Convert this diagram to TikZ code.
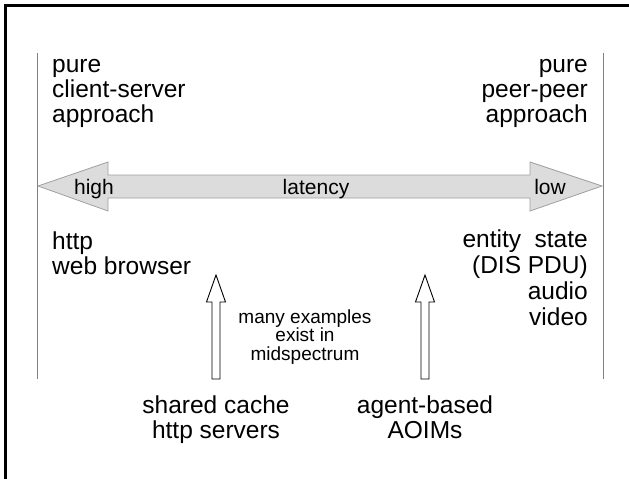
\documentclass[tikz,border=0pt]{standalone}
\usepackage{fontspec}
\setmainfont{Liberation Sans}
\usetikzlibrary{positioning}
\definecolor{barfill}{HTML}{DCDCDC}
\definecolor{barline}{HTML}{A0A0A0}
\tikzset{
  bigtext/.style={inner sep=0pt,font=\fontsize{24.5}{25}\selectfont},
  smalltext/.style={inner sep=0pt,font=\fontsize{19}{18.3}\selectfont,align=center},
  bartext/.style={inner sep=0pt,font=\fontsize{21}{21}\selectfont,anchor=base},
  uparrow/.style={draw=black,fill=white,line width=0.9pt,line join=miter}
}
\begin{document}
\begin{tikzpicture}[x=1pt,y=-1pt]
\useasboundingbox (0,0) rectangle (629,479);
% frame, only top and left edge show
\draw[line width=3pt] (5.5,479) -- (5.5,5.5) -- (629,5.5);
% the two ends of the spectrum
\draw[gray,line width=1pt] (37,53) -- (37,379);
\draw[gray,line width=1pt] (603,53) -- (603,379);
% latency bar
\draw[draw=barline,fill=barfill,line width=0.8pt] (38,186) -- (108,162) -- (108,175)
  -- (530,175) -- (530,162) -- (602,186) -- (530,211) -- (530,198) -- (108,198)
  -- (108,211) -- cycle;
\node[bartext] (high) at (94,194) {high};
\node[bartext] (lat) at (316,194) {latency};
\node[bartext] (low) at (550,194) {low};
% top labels (base = last line)
\node[bigtext,anchor=base west,align=left] (cs) at (52,122) {pure\\client-server\\approach};
\node[bigtext,anchor=base east,align=right] (pp) at (588,122) {pure\\peer-peer\\approach};
% bottom labels
\node[bigtext,anchor=base west,align=left] (web) at (52,274) {http\\web browser};
\node[bigtext,anchor=base east,align=right,font=\fontsize{24.5}{26}\selectfont] (dis) at (588,325) {entity\ \ state\\(DIS PDU)\\audio\\video};
% middle arrows
\draw[uparrow] (216,275) -- (225.5,302) -- (220,302) -- (220,379) -- (212,379)
  -- (212,302) -- (206.5,302) -- cycle;
\draw[uparrow] (425,275) -- (434.5,302) -- (429,302) -- (429,379) -- (421,379)
  -- (421,302) -- (415.5,302) -- cycle;
\node[smalltext,anchor=base] (mid) at (305,360) {many examples\\exist in\\midspectrum};
\node[bigtext,anchor=base,align=center] (cache) at (216,438) {shared cache\\http servers};
\node[bigtext,anchor=base,align=center] (agent) at (425,438) {agent-based\\AOIMs};
\end{tikzpicture}
\end{document}
